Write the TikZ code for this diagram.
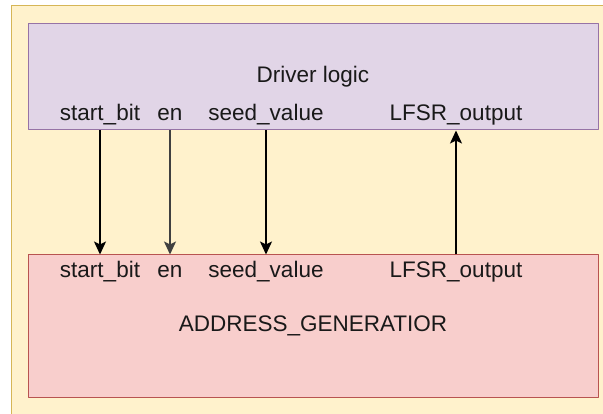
\documentclass[tikz,border=0pt]{standalone}
\usepackage{fontspec}
\setmainfont{Liberation Sans}
\usetikzlibrary{arrows.meta}
\definecolor{bgfill}{HTML}{FFF2CC}
\definecolor{bgline}{HTML}{D6B656}
\definecolor{drvfill}{HTML}{E1D5E7}
\definecolor{drvline}{HTML}{9673A6}
\definecolor{genfill}{HTML}{F8CECC}
\definecolor{genline}{HTML}{B85450}
\begin{document}
\begin{tikzpicture}[x=1pt, y=-1pt, line join=round, >={Stealth[length=13pt, width=12pt, inset=3pt]},
	every node/.style={font=\fontsize{22.5}{26}\selectfont, text=black!90},
	block/.style={minimum width=570pt, minimum height=106pt, line width=1pt, inner sep=0pt}]
	\useasboundingbox (0,0) rectangle (603,414);
	
	\fill[bgfill, draw=bgline, line width=1pt] (11,6) rectangle (640,440);
	
	\node[block, fill=drvfill, draw=drvline] (driver) at (313,77) {Driver logic};
	\node[block, fill=genfill, draw=genline, minimum height=142pt] (gen) at (313,326) {ADDRESS\_GENERATIOR};
	
	\foreach \n/\x/\t in {sb/100/start\_bit, en/170/en, sv/266/seed\_value, lo/456/LFSR\_output} {
		\node (top\n) at (\x,115) {\t};
		\node (bot\n) at (\x,272) {\t};
	}
	
	\draw[->, line width=1.5pt] (driver.south -| topsb) -- (gen.north -| botsb);
	\draw[->, line width=1.5pt, black!75] (driver.south -| topen) -- (gen.north -| boten);
	\draw[->, line width=1.5pt] (driver.south -| topsv) -- (gen.north -| botsv);
	\draw[->, line width=1.5pt] (gen.north -| botlo) -- (driver.south -| toplo);
\end{tikzpicture}
\end{document}
